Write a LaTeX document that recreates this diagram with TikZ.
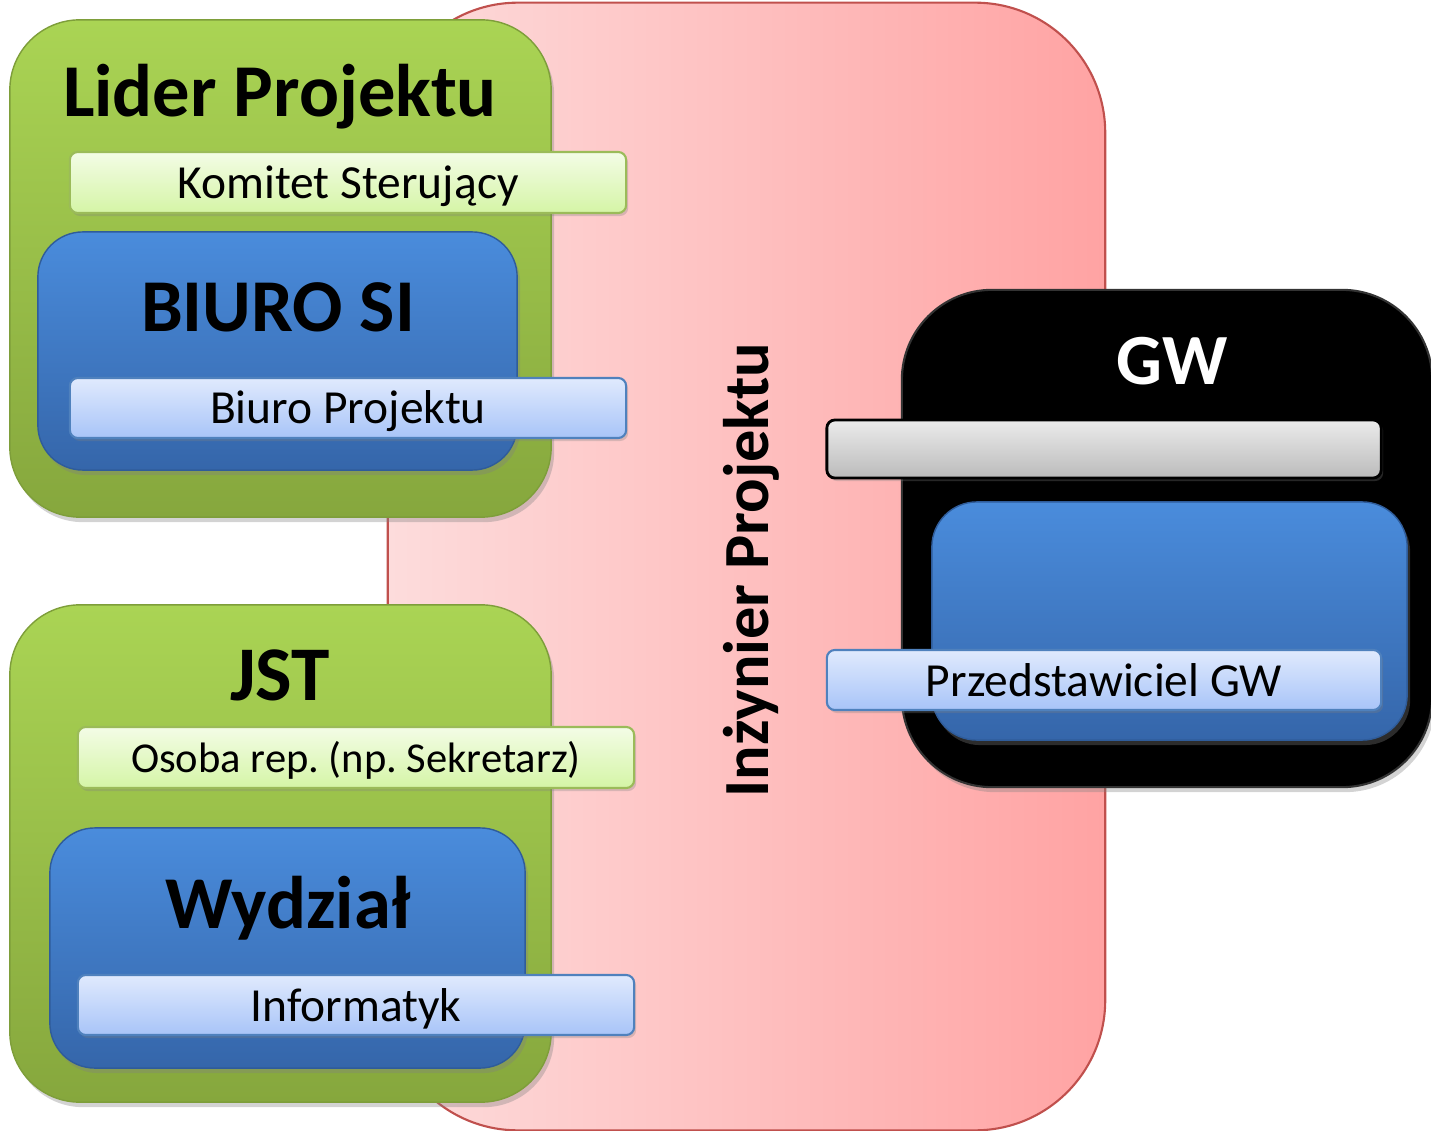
\documentclass[tikz,border=0pt]{standalone}
\usepackage{fontspec}
\setmainfont{Carlito}
\frenchspacing
\usetikzlibrary{shadows}
\definecolor{redL}{HTML}{FDDCDC}
\definecolor{redR}{HTML}{FFA3A3}
\definecolor{redB}{HTML}{C0504D}
\definecolor{grT}{HTML}{AAD454}
\definecolor{grB}{HTML}{86A73D}
\definecolor{grE}{HTML}{7E9E3A}
\definecolor{blT}{HTML}{4A8CDC}
\definecolor{blB}{HTML}{3566AA}
\definecolor{blE}{HTML}{2F5C9A}
\definecolor{lgT}{HTML}{F3FCE6}
\definecolor{lgB}{HTML}{D5F5A6}
\definecolor{lgE}{HTML}{9BBB59}
\definecolor{lbT}{HTML}{E0EAFD}
\definecolor{lbB}{HTML}{A8C4F8}
\definecolor{lbE}{HTML}{4F81BD}
\definecolor{gyT}{HTML}{EBEBEB}
\definecolor{gyB}{HTML}{BBBBBB}
\tikzset{
  redbox/.style={draw=redB, line width=0.6pt, left color=redL, right color=redR, rounded corners=1.3cm},
  greenbox/.style={draw=grE, line width=0.4pt, top color=grT, bottom color=grB, rounded corners=0.7cm,
    drop shadow={shadow xshift=0.03cm, shadow yshift=-0.05cm, opacity=0.35}},
  bluebox/.style={draw=blE, line width=0.4pt, top color=blT, bottom color=blB, rounded corners=0.45cm,
    drop shadow={shadow xshift=0.03cm, shadow yshift=-0.05cm, opacity=0.35}},
  blackbox/.style={draw=black!80, line width=0.6pt, fill=black, rounded corners=0.9cm,
    drop shadow={shadow xshift=0.03cm, shadow yshift=-0.05cm, opacity=0.35}},
  gbar/.style={draw=lgE, line width=0.6pt, top color=lgT, bottom color=lgB, rounded corners=0.08cm,
    drop shadow={shadow xshift=0.02cm, shadow yshift=-0.03cm, opacity=0.3}},
  bbar/.style={draw=lbE, line width=0.6pt, top color=lbT, bottom color=lbB, rounded corners=0.08cm,
    drop shadow={shadow xshift=0.02cm, shadow yshift=-0.03cm, opacity=0.3}},
  ybar/.style={draw=black, line width=0.8pt, top color=gyT, bottom color=gyB, rounded corners=0.08cm,
    drop shadow={shadow xshift=0.02cm, shadow yshift=-0.03cm, opacity=0.3}},
  shapebox/.style={inner sep=0pt, outer sep=0pt},
  title/.style={font=\fontsize{21.2}{25}\selectfont\bfseries, anchor=base, inner sep=0pt},
  bartext/.style={font=\fontsize{13.5}{16}\selectfont, anchor=base, inner sep=0pt},
}
\begin{document}
\begin{tikzpicture}[x=0.01cm, y=-0.01cm]
\useasboundingbox (0,0) rectangle (1431,1131);
% red background
\node[redbox, shapebox, minimum width=7.17cm, minimum height=11.27cm] (inz) at (746.5,566.5) {};
% green containers
\node[greenbox, shapebox, minimum width=5.41cm, minimum height=4.97cm] (lider) at (280.5,268.5) {};
\node[greenbox, shapebox, minimum width=5.41cm, minimum height=4.97cm] (jst) at (280.5,853.5) {};
% GW black
\node[blackbox, shapebox, minimum width=5.30cm, minimum height=4.97cm] (gw) at (1167,538.5) {};
% blue boxes
\node[bluebox, shapebox, minimum width=4.79cm, minimum height=2.38cm] (biuro) at (277.5,351) {};
\node[bluebox, shapebox, minimum width=4.75cm, minimum height=2.40cm] (wydz) at (287.5,948) {};
\node[bluebox, shapebox, minimum width=4.75cm, minimum height=2.38cm] (gwblue) at (1169.5,621) {};
% bars
\node[gbar, shapebox, minimum width=5.56cm, minimum height=0.61cm] (komitet) at (348,182.5) {};
\node[bbar, shapebox, minimum width=5.56cm, minimum height=0.60cm] (bproj) at (348,408) {};
\node[gbar, shapebox, minimum width=5.56cm, minimum height=0.61cm] (osoba) at (356,757.5) {};
\node[bbar, shapebox, minimum width=5.56cm, minimum height=0.60cm] (info) at (356,1005) {};
\node[ybar, shapebox, minimum width=5.54cm, minimum height=0.58cm] (grey) at (1104,449) {};
\node[bbar, shapebox, minimum width=5.54cm, minimum height=0.60cm] (przed) at (1104,680) {};
% titles
\node[title] (tlider) at (280,117) {Lider Projektu};
\node[title] (tbiuro) at (278,332) {BIURO SI};
\node[title, font=\fontsize{22}{26}\selectfont\bfseries] (tjst) at (280,700) {JST};
\node[title] (twydz) at (288,928) {Wydział};
\node[title, font=\fontsize{20.5}{24}\selectfont\bfseries, text=white] (tgw) at (1172,385) {GW};
\node[font=\fontsize{18.3}{22}\selectfont\bfseries, anchor=base, inner sep=0pt, rotate=90] (tinz) at (768,570) {Inżynier Projektu};
% bar texts
\node[bartext] (tkom) at (348,199) {Komitet Sterujący};
\node[bartext] (tbp) at (348,424) {Biuro Projektu};
\node[bartext, font=\fontsize{12.1}{14}\selectfont] (tos) at (356,772) {Osoba rep. (np. Sekretarz)};
\node[bartext] (tinf) at (356,1021) {Informatyk};
\node[bartext] (tprz) at (1104,696) {Przedstawiciel GW};
\end{tikzpicture}
\end{document}
